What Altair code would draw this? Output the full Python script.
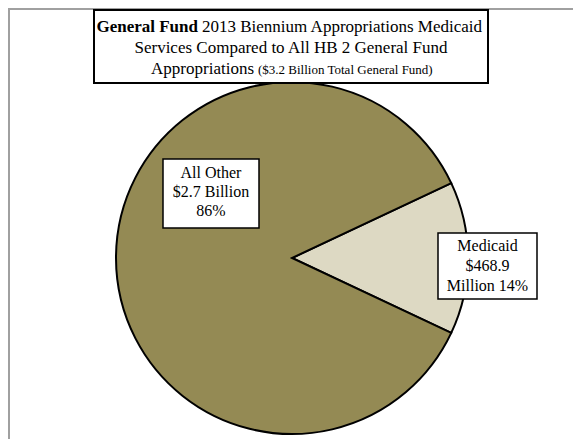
import math
import altair as alt
import pandas as pd

# ---- data ----
categories = ["Medicaid", "All Other"]
percents = [14, 86]
slice_colors = ["#DDD9C3", "#948A54"]
label_lines = [["Medicaid", "$468.9", "Million 14%"], ["All Other", "$2.7 Billion", "86%"]]
title_bold = "General Fund"
title_line1 = "2013 Biennium Appropriations Medicaid"
title_line2 = "Services Compared to All HB 2 General Fund"
title_line3a = "Appropriations"
title_line3b = "($3.2 Billion Total General Fund)"

W, H = 565, 431
FONT = "Liberation Serif"
CX, CY, R = 284, 250, 176

df = pd.DataFrame({"category": categories, "pct": percents, "idx": list(range(len(categories)))})
start = math.pi / 2 - percents[0] / 100 * math.pi

base = alt.Chart(df)

pie = base.mark_arc(radius=R, stroke="black", strokeWidth=2).encode(
    theta=alt.Theta("pct:Q", stack=True, scale=alt.Scale(range=[start, start + 2 * math.pi])),
    color=alt.Color("category:N", scale=alt.Scale(domain=categories, range=slice_colors), legend=None),
    order=alt.Order("idx:Q"),
    x=alt.value(CX),
    y=alt.value(CY),
)

one = alt.Chart(pd.DataFrame({"a": [0]}))

# outer frame (gray, top and left)
frame_top = one.mark_rule(color="#A0A0A0", strokeWidth=2).encode(
    x=alt.value(0), x2=alt.value(W), y=alt.value(1))
frame_left = one.mark_rule(color="#A0A0A0", strokeWidth=2).encode(
    x=alt.value(1), y=alt.value(0), y2=alt.value(H))

# title box
title_box = one.mark_rect(fill="white", stroke="black", strokeWidth=2).encode(
    x=alt.value(86), x2=alt.value(480), y=alt.value(2), y2=alt.value(75))
t1b = one.mark_text(font=FONT, fontSize=17, fontWeight="bold", align="right", baseline="alphabetic",
                    color="black").encode(x=alt.value(190), y=alt.value(24), text=alt.value(title_bold))
t1 = one.mark_text(font=FONT, fontSize=17, align="left", baseline="alphabetic", color="black").encode(
    x=alt.value(194), y=alt.value(24), text=alt.value(title_line1))
t2 = one.mark_text(font=FONT, fontSize=17, align="center", baseline="alphabetic", color="black").encode(
    x=alt.value(283), y=alt.value(45), text=alt.value(title_line2))
t3a = one.mark_text(font=FONT, fontSize=17, align="right", baseline="alphabetic", color="black").encode(
    x=alt.value(246), y=alt.value(66), text=alt.value(title_line3a))
t3b = one.mark_text(font=FONT, fontSize=13, align="left", baseline="alphabetic", color="black").encode(
    x=alt.value(250), y=alt.value(66), text=alt.value(title_line3b))

# label boxes
box_other = one.mark_rect(fill="white", stroke="black", strokeWidth=1.5).encode(
    x=alt.value(155), x2=alt.value(251), y=alt.value(151), y2=alt.value(220))
txt_other = one.mark_text(font=FONT, fontSize=16, align="center", baseline="middle", lineHeight=19,
                          color="black").encode(
    x=alt.value(203), y=alt.value(165), text=alt.value(label_lines[1]))
box_med = one.mark_rect(fill="white", stroke="black", strokeWidth=1.5).encode(
    x=alt.value(430), x2=alt.value(529), y=alt.value(225), y2=alt.value(291))
txt_med = one.mark_text(font=FONT, fontSize=16, align="center", baseline="middle", lineHeight=20,
                        color="black").encode(
    x=alt.value(479.5), y=alt.value(238), text=alt.value(label_lines[0]))

chart = alt.layer(
    frame_top, frame_left, pie, title_box, t1b, t1, t2, t3a, t3b,
    box_other, txt_other, box_med, txt_med
).properties(
    width=W, height=H, autosize=alt.AutoSizeParams(type="none"), padding=0
).configure_view(stroke=None)

chart.save("out.html", embed_options={"renderer": "svg", "actions": False})
